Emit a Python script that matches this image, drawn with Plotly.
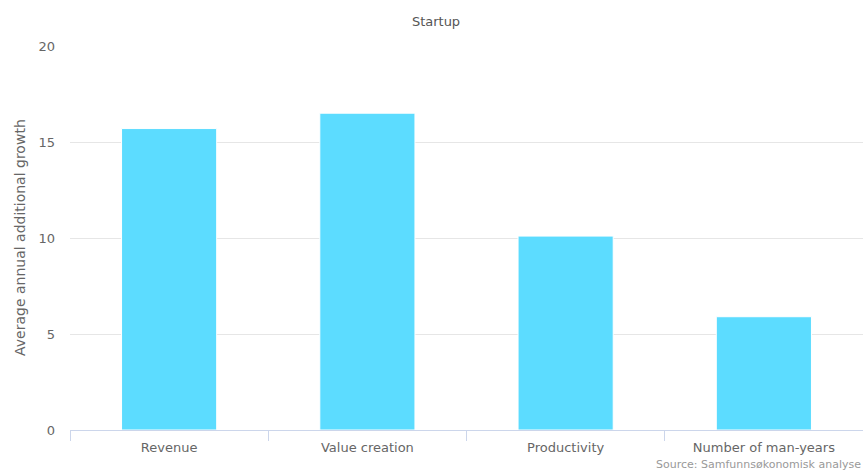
import plotly.graph_objects as go

# Average annual additional growth for startups, by measure
categories = ["Revenue", "Value creation", "Productivity", "Number of man-years"]
growth = [15.7, 16.5, 10.1, 5.9]
y_ticks = [0, 5, 10, 15, 20]

W, H = 863, 470
M_L, M_R, M_T, M_B = 70, 0, 46, 40
plot_w = W - M_L - M_R
plot_h = H - M_T - M_B

font_family = "DejaVu Sans, Verdana, sans-serif"

fig = go.Figure(
    go.Bar(
        x=categories,
        y=growth,
        marker=dict(color="#5cdcff", line=dict(color="#ffffff", width=1)),
        hoverinfo="x+y",
    )
)

fig.update_layout(
    width=W,
    height=H,
    margin=dict(l=M_L, r=M_R, t=M_T, b=M_B),
    paper_bgcolor="#ffffff",
    plot_bgcolor="#ffffff",
    bargap=0.52,
    showlegend=False,
    font=dict(family=font_family, color="#666666", size=13),
    title=dict(
        text="Startup",
        x=436 / W,
        xref="container",
        xanchor="center",
        y=1 - 21 / H,
        yanchor="middle",
        font=dict(family=font_family, size=13, color="#555555"),
    ),
)

fig.update_xaxes(
    range=[-0.5, len(categories) - 0.5],
    showline=True,
    linecolor="#ccd6eb",
    linewidth=1,
    ticks="outside",
    tickson="boundaries",
    ticklen=10,
    tickcolor="#ccd6eb",
    showgrid=False,
    ticklabelstandoff=5,
    tickfont=dict(size=13, color="#666666"),
    fixedrange=True,
)

fig.update_yaxes(
    range=[0, 20],
    tickvals=y_ticks,
    showgrid=True,
    gridcolor="#e6e6e6",
    gridwidth=1,
    zeroline=False,
    showline=False,
    ticks="",
    ticklabelstandoff=14,
    tickfont=dict(size=13, color="#666666"),
    fixedrange=True,
)

# Vertical axis title
fig.add_annotation(
    text="Average annual additional growth",
    xref="paper",
    yref="paper",
    x=(20 - M_L) / plot_w,
    y=0.5,
    xanchor="center",
    yanchor="middle",
    textangle=-90,
    showarrow=False,
    font=dict(family=font_family, size=14, color="#666666"),
)

# Source credit in the bottom-right corner
fig.add_annotation(
    text="Source: Samfunnsøkonomisk analyse",
    xref="paper",
    yref="paper",
    x=1,
    y=-(464 - (H - M_B)) / plot_h,
    xanchor="right",
    yanchor="middle",
    showarrow=False,
    font=dict(family=font_family, size=11, color="#999999"),
)

fig.write_html("out.html")
